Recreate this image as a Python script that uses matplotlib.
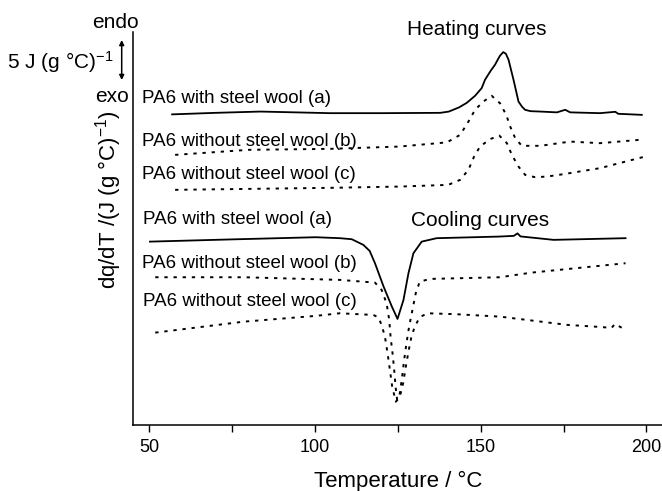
import matplotlib
matplotlib.use("Agg")
import matplotlib.pyplot as plt
import matplotlib.transforms as mtransforms

plt.rcParams['font.family'] = ['Liberation Sans', 'DejaVu Sans']
plt.rcParams['mathtext.fontset'] = 'custom'
plt.rcParams['mathtext.rm'] = 'Liberation Sans'
plt.rcParams['mathtext.it'] = 'Liberation Sans'
plt.rcParams['mathtext.default'] = 'regular'

# ---------------- data (dq/dT in J (g °C)^-1, arbitrary offset) ----------------
heat_a_T = [56.9, 70, 83.5, 104.5, 120, 137.8, 140.4, 143.5, 145.8, 148.3, 150.3, 151.3, 153, 154.3,
            155.8, 156.8, 157.6, 158.4, 159.9, 161.4, 162.5, 163.4, 165, 168, 173, 175.5, 177, 186,
            190.6, 191.5, 198.6]
heat_a_q = [38.81, 39.0, 39.16, 38.96, 38.96, 39.0, 39.16, 39.69, 40.25, 41.13, 42.09, 43.13, 44.25, 45.0,
            46.13, 46.59, 46.38, 45.63, 43.13, 40.41, 39.75, 39.38, 39.21, 39.16, 39.06, 39.38, 39.06, 38.96,
            39.13, 38.88, 38.75]

heat_b_T = [57.8, 80, 104.5, 125.6, 139.8, 143.8, 146.3, 148.3, 150.8, 153.3, 155.8, 157.7, 158.9,
            160.4, 162.4, 168, 177, 186, 198]
heat_b_q = [33.75, 34.38, 34.5, 34.79, 35.31, 36.25, 37.91, 39.38, 40.41, 41.13, 40.21, 38.75, 37.29,
            35.84, 34.88, 34.88, 35.41, 35.21, 35.63]

heat_c_T = [57.8, 104.5, 125.6, 140.2, 143.8, 146.3, 148, 149.8, 152.8, 155.6, 157.9, 159.4, 161.4,
            163.4, 166.4, 170, 175, 186, 199.6]
heat_c_q = [29.38, 29.63, 29.79, 30.0, 30.63, 31.88, 33.54, 34.79, 35.71, 36.16, 35.21, 33.75, 32.29,
            31.25, 30.96, 31.04, 31.34, 32.09, 33.54]

cool_a_T = [50.2, 75, 100.2, 107.5, 111.1, 114.6, 116.5, 118.1, 120.7, 123.2, 124.9, 126.7, 128.2,
            129.7, 132.2, 136.7, 155.4, 160, 161.1, 162, 172, 193.7]
cool_a_q = [22.91, 23.19, 23.46, 23.34, 23.21, 22.5, 21.75, 20.21, 17.29, 14.79, 13.25, 15.63, 18.96,
            21.46, 22.91, 23.34, 23.54, 23.63, 23.94, 23.56, 23.13, 23.34]

cool_b_T = [51.8, 78.5, 107.5, 118.1, 120.1, 121.6, 122.4, 122.8, 123.4, 123.9, 124.3, 124.8, 125.6,
            126.3, 126.9, 127.6, 128.4, 129.4, 130.4, 131.6, 134.7, 155.8, 165.4, 193.7]
cool_b_q = [18.46, 18.46, 18.13, 17.79, 16.88, 15.21, 13.13, 11.04, 8.96, 6.88, 4.79, 3.13, 3.96,
            6.04, 8.13, 10.21, 12.29, 14.38, 16.46, 17.91, 18.25, 18.46, 19.04, 20.21]

cool_c_T = [51.8, 78.5, 100.2, 107.5, 117.6, 119.1, 120.1, 121.1, 121.9, 122.6, 123.3, 124.4, 125.6,
            126.6, 127.4, 128.3, 129.1, 130.1, 131.6, 133.9, 142.7, 155.8, 176.3, 186, 189.5, 190.5, 193.7]
cool_c_q = [11.54, 12.91, 13.63, 13.96, 13.75, 13.46, 12.5, 11.04, 8.96, 6.88, 4.79, 2.91, 3.54,
            5.21, 7.29, 9.38, 11.04, 12.29, 13.46, 13.96, 13.84, 13.54, 12.5, 12.25, 12.13, 12.63, 11.88]

x_ticks = [50, 100, 150, 200]
x_minor = [75, 125, 175]

heat_labels = ["PA6 with steel wool (a)", "PA6 without steel wool (b)", "PA6 without steel wool (c)"]
cool_labels = ["PA6 with steel wool (a)", "PA6 without steel wool (b)", "PA6 without steel wool (c)"]

# ---------------- figure ----------------
W, H = 662, 491
fig = plt.figure(figsize=(W / 100, H / 100), dpi=100)
ax = fig.add_axes([132.7 / W, (H - 425) / H, (W - 132.7) / W, (425 - 32) / H])

solid = dict(color='black', lw=1.3, ls='-')
dotted = dict(color='black', lw=1.4, ls=(0, (1.7, 3.0)))

ax.plot(heat_a_T, heat_a_q, **solid)
ax.plot(heat_b_T, heat_b_q, **dotted)
ax.plot(heat_c_T, heat_c_q, **dotted)
ax.plot(cool_a_T, cool_a_q, **solid)
ax.plot(cool_b_T, cool_b_q, **dotted)
ax.plot(cool_c_T, cool_c_q, **dotted)

ax.set_xlim(45, 204.7)
ax.set_ylim(0, 49.1)
ax.set_xticks(x_ticks)
ax.set_xticklabels([str(t) for t in x_ticks])
ax.set_xticks(x_minor, minor=True)
ax.set_yticks([])
for s in ('top', 'right'):
    ax.spines[s].set_visible(False)
for s in ('left', 'bottom'):
    ax.spines[s].set_linewidth(1.1)
ax.tick_params(axis='x', which='both', direction='out', length=5, width=1.0, labelsize=13, pad=5)

# curve labels
lab_fs = 13.5
ax.text(47.7, 40.84, heat_labels[0], fontsize=lab_fs, va='center', ha='left')
ax.text(47.7, 35.41, heat_labels[1], fontsize=lab_fs, va='center', ha='left')
ax.text(47.7, 31.25, heat_labels[2], fontsize=lab_fs, va='center', ha='left')
ax.text(48.1, 25.63, cool_labels[0], fontsize=lab_fs, va='center', ha='left')
ax.text(47.8, 20.21, cool_labels[1], fontsize=lab_fs, va='center', ha='left')
ax.text(48.1, 15.41, cool_labels[2], fontsize=lab_fs, va='center', ha='left')

ax.text(148.9, 49.4, "Heating curves", fontsize=15, ha='center', va='center', clip_on=False)
ax.text(149.8, 25.5, "Cooling curves", fontsize=15, ha='center', va='center')

# endo / exo scale marker
fig.text(115 / W, 1 - 22 / H, "endo", fontsize=15, ha='center', va='center')
fig.text(111.5 / W, 1 - 97 / H, "exo", fontsize=15, ha='center', va='center')
fig.text(113 / W, 1 - 62 / H, "5 J (g °C)$^{-1}$", fontsize=15, ha='right', va='center')
trans = mtransforms.blended_transform_factory(fig.transFigure, ax.transData)
ax.annotate('', xy=(121.7 / W, 48.1), xytext=(121.7 / W, 43.1),
            xycoords=trans, textcoords=trans,
            arrowprops=dict(arrowstyle='<|-|>', color='black', lw=1.1,
                            mutation_scale=7, shrinkA=0, shrinkB=0))

# axis labels
fig.text(398 / W, 1 - 481 / H, "Temperature / °C", fontsize=16, ha='center', va='center')
fig.text(109 / W, 1 - 200 / H, "dq/dT /(J (g °C)$^{-1}$)", fontsize=16, ha='center', va='center',
         rotation=90)

fig.savefig("out.png", dpi=100)
